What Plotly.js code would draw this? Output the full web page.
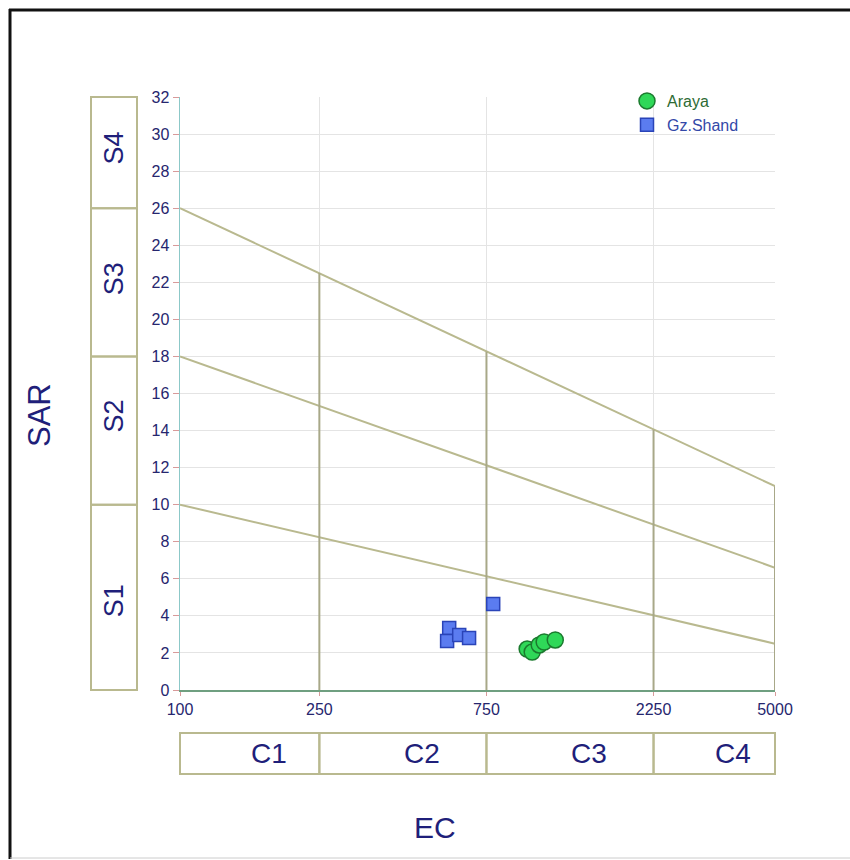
<!DOCTYPE html>
<html>
<head>
<meta charset="utf-8">
<script src="https://cdn.plot.ly/plotly-3.0.1.min.js"></script>
<style>html,body{margin:0;padding:0;background:#fff;}#chart{width:850px;height:860px;}</style>
</head>
<body>
<div id="chart"></div>
<script>
// ---- data ----
const arayaEC  = [980, 1013, 1061, 1096, 1179];
const arayaSAR = [2.21, 2.05, 2.43, 2.59, 2.70];
const shandEC  = [587, 579, 627, 669, 784];
const shandSAR = [3.35, 2.64, 2.97, 2.81, 4.64];

// diagram boundaries
const lineEC = [100, 5000];
const lineS1S2 = [10, 2.5];
const lineS2S3 = [18, 6.6];
const lineS3S4 = [26, 11];
const dividerEC  = [250, 750, 2250, 5000];
const dividerTop = [22.5, 18.25, 14.05, 11.0];

const xTicks = [100, 250, 750, 2250, 5000];
const sBounds = [0, 10, 18, 26, 32];
const sLabels = ['S1', 'S2', 'S3', 'S4'];
const cBounds = [100, 250, 750, 2250, 5000];
const cLabels = ['C1', 'C2', 'C3', 'C4'];

// ---- build ----
const olive = '#b9b98f';
const navy = '#1f1f7a';
const FONT = 'Liberation Sans, Arial, sans-serif';
const xMinL = Math.log10(100), xMaxL = Math.log10(5000);
const px2paperX = p => (p - 180) / 595;
const px2paperY = p => (690 - p) / 593;
const ecToPaper = v => (Math.log10(v) - xMinL) / (xMaxL - xMinL);

const vx = [], vy = [];
dividerEC.forEach((e, i) => { vx.push(e, e, null); vy.push(0, dividerTop[i], null); });

const traces = [
  {x: lineEC, y: lineS1S2, mode: 'lines', line: {color: olive, width: 2}, showlegend: false, hoverinfo: 'skip'},
  {x: lineEC, y: lineS2S3, mode: 'lines', line: {color: olive, width: 2}, showlegend: false, hoverinfo: 'skip'},
  {x: lineEC, y: lineS3S4, mode: 'lines', line: {color: olive, width: 2}, showlegend: false, hoverinfo: 'skip'},
  {x: vx, y: vy, mode: 'lines', line: {color: '#a8a888', width: 2}, showlegend: false, hoverinfo: 'skip', connectgaps: false},
  {x: arayaEC, y: arayaSAR, mode: 'markers', name: 'Araya',
   marker: {symbol: 'circle', size: 16, color: '#2fd858', line: {color: '#1b7a2e', width: 1.5}}},
  {x: shandEC, y: shandSAR, mode: 'markers', name: 'Gz.Shand',
   marker: {symbol: 'square', size: 13, color: '#5b7cf0', line: {color: '#2a44b8', width: 1.5}}}
];

const shapes = [];
const annotations = [];
// S boxes
const sx0 = px2paperX(91), sx1 = px2paperX(137);
const sShift = [-4, 14, 3, 4];
for (let i = 0; i < sLabels.length; i++) {
  shapes.push({type: 'rect', xref: 'paper', yref: 'paper', x0: sx0, x1: sx1,
    y0: sBounds[i] / 32, y1: sBounds[i + 1] / 32, line: {color: olive, width: 2}});
  annotations.push({xref: 'paper', yref: 'paper', x: (sx0 + sx1) / 2, y: (sBounds[i] + sBounds[i + 1]) / 64,
    xanchor: 'center', yanchor: 'middle',
    yshift: sShift[i], text: sLabels[i], showarrow: false, textangle: -90,
    font: {family: FONT, size: 27, color: navy}});
}
// C boxes
const cy0 = px2paperY(774), cy1 = px2paperY(733);
for (let i = 0; i < cLabels.length; i++) {
  const a = ecToPaper(cBounds[i]), b = ecToPaper(cBounds[i + 1]);
  shapes.push({type: 'rect', xref: 'paper', yref: 'paper', x0: a, x1: b, y0: cy0, y1: cy1,
    line: {color: olive, width: 2}});
  annotations.push({xref: 'paper', yref: 'paper', x: (a + b) / 2, y: (cy0 + cy1) / 2, xshift: 19,
    xanchor: 'center', yanchor: 'middle',
    text: cLabels[i], showarrow: false,
    font: {family: FONT, size: 28, color: navy}});
}
// axis titles
annotations.push({xref: 'paper', yref: 'paper', x: px2paperX(40), y: px2paperY(415), text: 'SAR',
  xanchor: 'center', yanchor: 'middle',
  showarrow: false, textangle: -90, font: {family: FONT, size: 31, color: navy}});
annotations.push({xref: 'paper', yref: 'paper', x: px2paperX(435), y: px2paperY(827), text: 'EC',
  xanchor: 'center', yanchor: 'middle',
  showarrow: false, font: {family: FONT, size: 30, color: navy}});

// outer frame
shapes.push({type: 'line', xref: 'paper', yref: 'paper', x0: px2paperX(10), x1: px2paperX(10),
  y0: px2paperY(9), y1: px2paperY(859), line: {color: '#111', width: 3}});
shapes.push({type: 'line', xref: 'paper', yref: 'paper', x0: px2paperX(9), x1: px2paperX(860),
  y0: px2paperY(10), y1: px2paperY(10), line: {color: '#111', width: 3}});
shapes.push({type: 'line', xref: 'paper', yref: 'paper', x0: px2paperX(10), x1: px2paperX(860),
  y0: px2paperY(858), y1: px2paperY(858), line: {color: '#cccccc', width: 1}});

const layout = {
  width: 850, height: 860,
  margin: {l: 180, r: 75, t: 97, b: 170},
  paper_bgcolor: '#ffffff', plot_bgcolor: '#ffffff',
  font: {family: FONT, color: '#26266e'},
  xaxis: {type: 'log', range: [xMinL, xMaxL], tickvals: xTicks, ticktext: xTicks.map(String),
    showgrid: true, gridcolor: '#e4e4e4', gridwidth: 1,
    showline: true, linecolor: '#6f9f80', linewidth: 1.5,
    ticks: 'outside', ticklen: 4, tickcolor: '#d89a9a',
    tickfont: {size: 16, color: '#26266e'}, zeroline: false},
  yaxis: {range: [0, 32], dtick: 2, tick0: 0,
    showgrid: true, gridcolor: '#e4e4e4', gridwidth: 1,
    showline: true, linecolor: '#8cc8c8', linewidth: 1.5,
    ticks: 'outside', ticklen: 6, tickcolor: '#d89a9a',
    tickfont: {size: 16, color: '#26266e'}, zeroline: false},
  legend: {x: px2paperX(627), y: px2paperY(84), xanchor: 'left', yanchor: 'top',
    bgcolor: 'rgba(0,0,0,0)', tracegroupgap: 0, itemsizing: 'trace',
    font: {size: 16}},
  shapes: shapes,
  annotations: annotations,
  showlegend: true
};

Plotly.newPlot('chart', traces, layout, {displayModeBar: false, staticPlot: true}).then(() => {
  // colour legend texts
  const texts = document.querySelectorAll('.legendtext');
  if (texts[0]) texts[0].style.fill = '#2e6b34';
  if (texts[1]) texts[1].style.fill = '#3348a8';
});
</script>
</body>
</html>
